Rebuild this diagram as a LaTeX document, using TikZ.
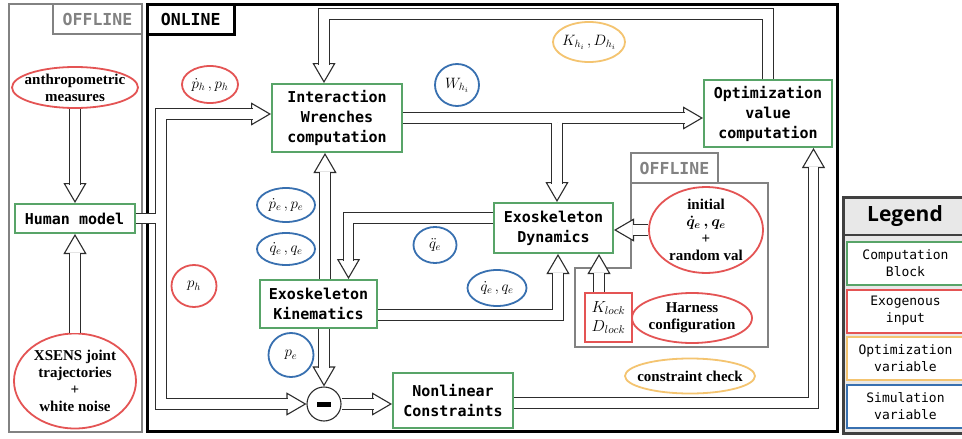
\RequirePackage{fix-cm}
\documentclass[tikz,border=0pt]{standalone}
\usepackage{amsmath}
\usepackage{bm}
\usepackage{fontspec}
\setmainfont{Liberation Serif}
\setmonofont{DejaVu Sans Mono}
\newfontfamily\legfont{Open Sans}
\usetikzlibrary{arrows.meta,shapes.geometric,calc}
\definecolor{cgreen}{RGB}{88,164,104}
\definecolor{cred}{RGB}{228,84,84}
\definecolor{cblue}{RGB}{56,112,176}
\definecolor{corange}{RGB}{244,196,112}
\definecolor{cgray}{RGB}{130,130,130}
\definecolor{cline}{RGB}{45,45,45}
\newcommand\blkfont{\ttfamily\bfseries\fontsize{15}{20}\selectfont}
\newcommand\panfont{\ttfamily\bfseries\fontsize{16.5}{18}\selectfont}
\newcommand\legitemfont{\ttfamily\fontsize{13}{17}\selectfont}
\newcommand\serbf{\bfseries\fontsize{15}{17}\selectfont}
\newcommand\mathsz{\fontsize{15}{17}\selectfont}
\newcommand\blockarrow[1]{\draw[ahead] #1;\draw[abody] #1;}
\newcommand\blockarrowboth[1]{\draw[aheads] #1;\draw[abodies] #1;}
\tikzset{
  shaft/.style={line width=1.1pt, draw=cline, double=white, double distance=9.5pt},
  abody/.style={shaft, shorten >=18.5pt},
  abodies/.style={shaft, shorten >=18.5pt, shorten <=18.5pt},
  ahead/.style={line width=1.1pt, draw=cline, ->},
  aheads/.style={line width=1.1pt, draw=cline, <->},
  blk/.style={draw=cgreen, line width=2pt, fill=white, inner sep=0pt, align=center, font=\blkfont},
  ovl/.style={ellipse, inner sep=0pt, line width=1.8pt, fill=white},
  tag/.style={inner sep=0pt, font=\panfont},
  legitem/.style={draw=#1, line width=2pt, fill=white, inner sep=0pt, minimum width=117pt, minimum height=43pt, align=center, font=\legitemfont},
}
\begin{document}
\begin{tikzpicture}[x=1pt, y=-1pt, >={Triangle[width=23pt,length=20pt,fill=white]}]
\useasboundingbox (0,0) rectangle (962,439);
\fill[white] (0,0) rectangle (962,439);

% panels
\node[draw=cgray, line width=2.5pt, minimum width=133pt, minimum height=428pt, inner sep=0pt] (offp) at (75.5,218) {};
\node[tag, draw=cgray, line width=2.5pt, text=cgray, minimum width=89pt, minimum height=30pt] (offt) at (97.5,19) {OFFLINE};
\node[draw=black, line width=3pt, minimum width=689.5pt, minimum height=427pt, inner sep=0pt] (onp) at (492.25,217.5) {};
\node[tag, draw=black, line width=3pt, minimum width=86.5pt, minimum height=30pt] (ont) at (190.75,19) {ONLINE};

% inner offline region
\draw[cgray, line width=2.5pt] (631,183) -- (768,183) -- (768,347) -- (575,347) -- (575,268) -- (631,268) -- cycle;
\node[tag, draw=cgray, line width=2.5pt, text=cgray, minimum width=87pt, minimum height=30pt] (offt2) at (674.5,168) {OFFLINE};

% legend
\node[draw=black!75, line width=2.5pt, fill=gray!18, minimum width=126pt, minimum height=236pt, inner sep=0pt, anchor=north west] (leg) at (842,196) {};
\node[font=\legfont\bfseries\fontsize{21}{24}\selectfont] (legt) at (905,216) {Legend};
\draw[black!75, line width=2.5pt] (leg.west |- 0,235) -- (leg.east |- 0,235);
\node[legitem=cgreen] (l1) at (905.5,263.5) {Computation\\Block};
\node[legitem=cred] (l2) at (905.5,311) {Exogenous\\input};
\node[legitem=corange] (l3) at (905.5,358.5) {Optimization\\variable};
\node[legitem=cblue] (l4) at (905.5,406) {Simulation\\variable};

% left offline nodes
\node[ovl, draw=cred, minimum width=126pt, minimum height=41pt, label={[font=\serbf, align=center]center:{anthropometric\\measures}}] (anth) at (75,87.5) {};
\node[ovl, draw=cred, minimum width=122pt, minimum height=95pt, label={[font=\serbf, align=center]center:{XSENS joint\\trajectories\\+\\white noise}}] (xs) at (75,381) {};
\node[blk, minimum width=120pt, minimum height=29pt] (hm) at (74.5,218.5) {Human model};

% computation blocks
\node[blk, minimum width=130pt, minimum height=68pt] (intw) at (337,118) {Interaction\\Wrenches\\computation};
\node[blk, minimum width=128pt, minimum height=67pt] (opt) at (768,113.5) {Optimization\\value\\computation};
\node[blk, minimum width=119pt, minimum height=50pt] (dyn) at (553.5,228) {Exoskeleton\\Dynamics};
\node[blk, minimum width=117pt, minimum height=48pt] (kin) at (318.5,304) {Exoskeleton\\Kinematics};
\node[blk, minimum width=120pt, minimum height=55pt] (nlc) at (453,400.5) {Nonlinear\\Constraints};
\node[circle, draw=cline, line width=1.1pt, fill=white, minimum size=34pt, inner sep=0pt] (minus) at (324,404) {};
\fill[black] ([xshift=-7pt,yshift=-2.5pt]minus.center) rectangle ([xshift=7pt,yshift=2.5pt]minus.center);

% variables
\node[ovl, draw=cred, minimum width=56pt, minimum height=37pt, label={[font=\mathsz]center:{$\dot{p}_h\,,p_h$}}] (phd) at (210,84.5) {};
\node[ovl, draw=cblue, minimum width=44pt, minimum height=42pt, label={[font=\mathsz]center:{$W_{h_i}$}}] (whi) at (457,85) {};
\node[ovl, draw=corange, minimum width=72pt, minimum height=40pt, label={[font=\mathsz]center:{$K_{h_i}\,,D_{h_i}$}}] (khi) at (589,42) {};
\node[ovl, draw=cblue, minimum width=58pt, minimum height=34pt, label={[font=\mathsz]center:{$\dot{p}_e\,,p_e$}}] (ped) at (286,205) {};
\node[ovl, draw=cblue, minimum width=58pt, minimum height=32pt, label={[font=\mathsz]center:{$\dot{q}_e\,,q_e$}}] (qed1) at (286,249) {};
\node[ovl, draw=cred, minimum width=45pt, minimum height=42pt, label={[font=\mathsz]center:{$p_h$}}] (ph) at (194,286) {};
\node[ovl, draw=cblue, minimum width=45pt, minimum height=44pt, label={[font=\mathsz]center:{$p_e$}}] (pe) at (291,355) {};
\node[ovl, draw=cblue, minimum width=43pt, minimum height=36pt, label={[font=\mathsz]center:{$\ddot{q}_e$}}] (qdd) at (435,245) {};
\node[ovl, draw=cblue, minimum width=59pt, minimum height=36pt, label={[font=\mathsz]center:{$\dot{q}_e\,,q_e$}}] (qed2) at (497,288) {};
\node[ovl, draw=cred, minimum width=114pt, minimum height=86pt, label={[font=\serbf, align=center]center:{initial\\{\boldmath$\dot{q}_e\,,q_e$}\\+\\random val}}] (init) at (706,230) {};
\node[draw=cred, line width=2pt, fill=white, minimum width=47pt, minimum height=49pt, inner sep=0pt, align=center, font=\fontsize{16}{19}\selectfont] (klock) at (608.5,317.5) {$K_{lock}$\\$D_{lock}$};
\node[ovl, draw=cred, minimum width=120pt, minimum height=50pt, label={[font=\serbf, align=center]center:{Harness\\configuration}}] (harn) at (692,318) {};
\node[ovl, draw=corange, minimum width=130pt, minimum height=35pt, label={[font=\serbf]center:{constraint check}}] (cc) at (690,376) {};

% helper coordinates
\coordinate (jx) at (161,218);
\coordinate (topc) at (500,14);
\coordinate (b1) at ([xshift=3.5pt]dyn.north);
\coordinate (k1) at ([xshift=6.5pt]kin.north);
\coordinate (k2) at ([xshift=-9.5pt]klock.north);

% block arrows
\blockarrow{(anth.south) -- (anth.south |- hm.north)}
\blockarrow{(xs.north) -- (xs.north |- hm.south)}
\blockarrowboth{([yshift=4pt]intw.west) -| (jx) |- (minus.west)}
\draw[shaft] (hm.east) -- (156.3,218.5);
\blockarrow{(intw.east) -- (intw.east -| opt.west)}
\blockarrow{([yshift=-4.6pt]intw.east -| b1) -- (b1)}
\blockarrow{(opt.north) |- (topc) -| ([xshift=-13pt]intw.north)}
\blockarrow{([yshift=10pt]dyn.west) -| ([xshift=30pt]kin.north)}
\blockarrow{(k1) -- (k1 |- intw.south)}
\blockarrow{([yshift=-11pt]kin.east) -| ([xshift=4.5pt]dyn.south)}
\blockarrow{(minus.north |- kin.south) -- (minus.north)}
\blockarrow{(minus.east) -- (minus.east -| nlc.west)}
\blockarrow{([yshift=-2.5pt]nlc.east) -| ([xshift=45.5pt]opt.south)}
\blockarrow{(init.west) -- (init.west -| dyn.east)}
\blockarrow{(k2) -- (k2 |- dyn.south)}
\end{tikzpicture}
\end{document}
